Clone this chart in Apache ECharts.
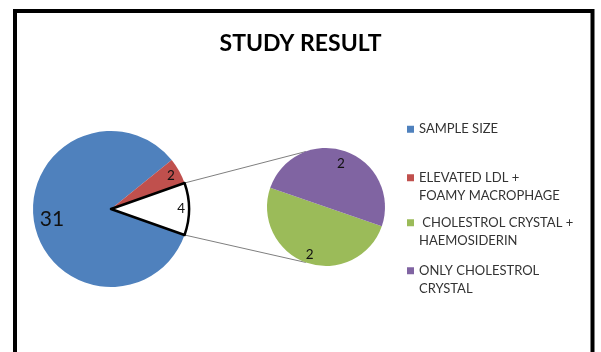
<!DOCTYPE html>
<html>
<head>
<meta charset="utf-8">
<script src="https://cdn.jsdelivr.net/npm/echarts@6/dist/echarts.min.js"></script>
<style>
  html, body { margin: 0; padding: 0; background: #fff; }
  #study-result-chart { width: 601px; height: 352px; }
</style>
</head>
<body>
<div id="study-result-chart"></div>
<script>
// data
const leftNames = ["SAMPLE SIZE", "ELEVATED LDL + FOAMY MACROPHAGE", "OTHER"];
const leftValues = [31, 2, 4];
const rightNames = ["CHOLESTROL CRYSTAL + HAEMOSIDERIN", "ONLY CHOLESTROL CRYSTAL"];
const rightValues = [2, 2];
const legendNames = [leftNames[0], leftNames[1], rightNames[0], rightNames[1]];
const legendTexts = [
  "SAMPLE SIZE",
  "\nELEVATED LDL +\nFOAMY MACROPHAGE",
  "\n CHOLESTROL CRYSTAL +\nHAEMOSIDERIN",
  "\nONLY CHOLESTROL\nCRYSTAL",
];

// layout
const fontFamily = "Lato, 'Open Sans', sans-serif";
const leftCenter = [111, 209];
const leftR = 78;
const rightCenter = [326, 207];
const rightR = 59;
const leftColors = ["#4f81bd", "#c0504d", "#ffffff"];
const rightColors = ["#9bbb59", "#8064a2"];
const leftLabelFrac = [0.73, 0.84, 0.86];
const rightLabelFrac = [0.8, 0.72];
const legendTops = [120, 150, 195, 243];

const sum = (arr) => arr.reduce((a, b) => a + b, 0);
const leftTotal = sum(leftValues);
// "other" slice centred on the horizontal, facing the second pie
const leftStart = -(leftValues[2] / leftTotal) * 360 / 2;
const rightStart = -19;

// mid angle (deg) of each slice, clockwise from start
const midAngles = (values, start) => {
  const total = sum(values);
  let a = start;
  return values.map((v) => {
    const span = (v / total) * 360;
    const mid = a - span / 2;
    a -= span;
    return mid;
  });
};
const leftMids = midAngles(leftValues, leftStart);
const rightMids = midAngles(rightValues, rightStart);

const shiftLabel = (mids, fracs, r) => (params) => {
  const rad = (mids[params.dataIndex] * Math.PI) / 180;
  const extra = (fracs[params.dataIndex] - 0.5) * r;
  return { dx: extra * Math.cos(rad), dy: -extra * Math.sin(rad) };
};

const pt = (c, r, deg) => {
  const rad = (deg * Math.PI) / 180;
  return [c[0] + r * Math.cos(rad), c[1] - r * Math.sin(rad)];
};

const myChart = echarts.init(document.getElementById("study-result-chart"));

// connector lines between "other" slice and second pie
const otherHalf = (leftValues[2] / leftTotal) * 180;
const p1 = pt(leftCenter, leftR, otherHalf);
const p2 = pt(leftCenter, leftR, -otherHalf);
const q1 = pt(rightCenter, rightR, 110);
const q2 = pt(rightCenter, rightR, 250);

const option = {
  animation: false,
  backgroundColor: "#fff",
  title: {
    text: "STUDY RESULT",
    left: "center",
    top: 32,
    padding: 0,
    textStyle: { fontFamily, fontSize: 23, fontWeight: "bold", color: "#000" },
  },
  legend: legendNames.map((name, i) => ({
    data: [name],
    orient: "vertical",
    left: 407,
    top: legendTops[i],
    padding: 0,
    icon: "rect",
    itemWidth: 7,
    itemHeight: 7,
    selectedMode: false,
    formatter: () => legendTexts[i],
    textStyle: { fontFamily, fontSize: 13, lineHeight: 18.5, color: "#333" },
  })),
  graphic: [
    {
      type: "rect",
      shape: { x: 15, y: 11, width: 577.5, height: 420 },
      style: { fill: null, stroke: "#000", lineWidth: 4 },
      z: 10,
    },
    {
      type: "line",
      shape: { x1: p1[0], y1: p1[1], x2: q1[0], y2: q1[1] },
      style: { stroke: "#7f7f7f", lineWidth: 1 },
    },
    {
      type: "line",
      shape: { x1: p2[0], y1: p2[1], x2: q2[0], y2: q2[1] },
      style: { stroke: "#7f7f7f", lineWidth: 1 },
    },
  ],
  series: [
    {
      name: "left",
      type: "pie",
      center: leftCenter,
      radius: leftR,
      startAngle: leftStart,
      clockwise: true,
      silent: true,
      label: {
        position: "inside",
        formatter: "{c}",
        fontFamily,
        fontSize: 13.5,
        color: "#111",
      },
      labelLine: { show: false },
      labelLayout: shiftLabel(leftMids, leftLabelFrac, leftR),
      data: leftNames.map((name, i) => ({
        name,
        value: leftValues[i],
        itemStyle:
          i === 2
            ? { color: leftColors[i], borderColor: "#000", borderWidth: 2.5 }
            : { color: leftColors[i] },
        label: i === 0 ? { fontSize: 21 } : {},
      })),
    },
    {
      name: "right",
      type: "pie",
      center: rightCenter,
      radius: rightR,
      startAngle: rightStart,
      clockwise: true,
      silent: true,
      label: {
        position: "inside",
        formatter: "{c}",
        fontFamily,
        fontSize: 13.5,
        color: "#111",
      },
      labelLine: { show: false },
      labelLayout: shiftLabel(rightMids, rightLabelFrac, rightR),
      data: rightNames.map((name, i) => ({
        name,
        value: rightValues[i],
        itemStyle: { color: rightColors[i] },
      })),
    },
  ],
};

myChart.setOption(option);
</script>
</body>
</html>
